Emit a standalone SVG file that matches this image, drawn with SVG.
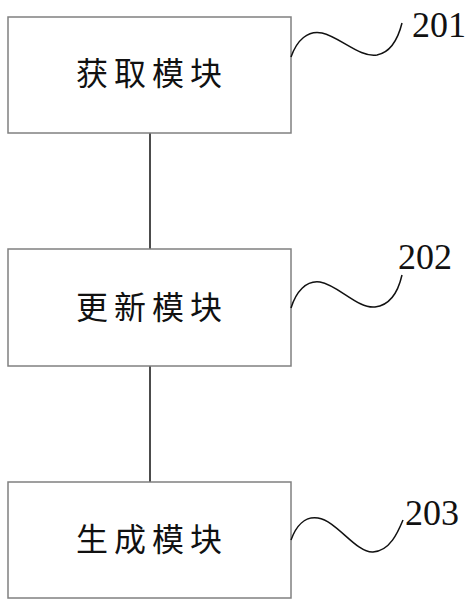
<svg xmlns="http://www.w3.org/2000/svg" width="474" height="608" viewBox="0 0 474 608">
<style>
.box{fill:#fff;stroke:#808080;stroke-width:1.5}
.lbl{font-family:"Noto Sans CJK SC","Noto Sans CJK JP",sans-serif;font-size:32px;fill:#111;text-anchor:middle;letter-spacing:6px}
.num{font-family:"Liberation Serif",serif;font-size:36px;fill:#111}
.sq{fill:none;stroke:#111;stroke-width:1.5}
.ln{stroke:#111;stroke-width:1.5}
</style>
<rect width="474" height="608" fill="#fff"/>
<g id="connectors">
<line class="ln" x1="150" y1="133" x2="150" y2="249"/>
<line class="ln" x1="150" y1="366" x2="150" y2="482"/>
</g>
<g id="node201">
<rect class="box" x="8" y="17" width="283" height="116"/>
<text class="lbl" x="152" y="85">获取模块</text>
</g>
<g id="node202">
<rect class="box" x="8" y="249" width="283" height="117"/>
<text class="lbl" x="152" y="319">更新模块</text>
</g>
<g id="node203">
<rect class="box" x="8" y="482" width="283" height="116"/>
<text class="lbl" x="152" y="551">生成模块</text>
</g>
<g id="label201">
<path class="sq" d="M291 57 C297 40 308 30 322 33 C340 37 360 58 377 55 C392 52 399 35 402 23"/>
<text class="num" x="412" y="37">201</text>
</g>
<g id="label202">
<path class="sq" d="M291 308 C296 292 306 280 320 282 C338 285 358 309 375 307 C392 305 399 288 402 275"/>
<text class="num" x="398" y="269">202</text>
</g>
<g id="label203">
<path class="sq" d="M291 540 C296 526 305 516 318 518 C337 521 356 553 373 552 C390 551 398 532 403 520"/>
<text class="num" x="405" y="525">203</text>
</g>
</svg>
